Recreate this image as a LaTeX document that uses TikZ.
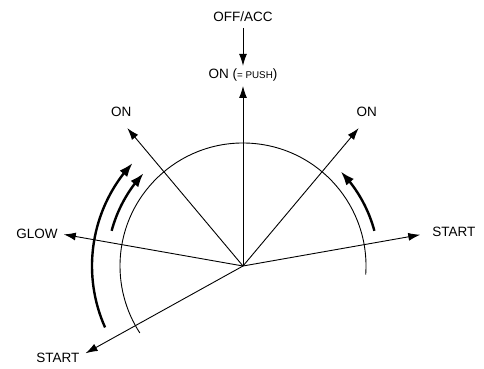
\documentclass[tikz,border=0pt]{standalone}
\usepackage{fontspec}
\setmainfont{Liberation Sans}
\usetikzlibrary{arrows.meta, positioning, bending}

\begin{document}
\begin{tikzpicture}[
  x=1pt, y=1pt,
  node distance=5pt,
  lbl/.style={inner sep=1pt, text height=9.8pt, text depth=2pt,
    font=\fontsize{13.5}{15}\selectfont},
  ray/.style={-{Latex[length=12pt, width=8pt]}, line width=0.9pt},
  turn/.style={-{Latex[length=14pt, width=10pt]}, line width=2.4pt}
]
\useasboundingbox (-243,-103) rectangle (241,266);
\coordinate (o) at (0,0);
% switch positions
\coordinate (topp) at (90:180pt);
\coordinate (onr) at (50:180pt);
\coordinate (onl) at (130:180pt);
\coordinate (str) at (10:180pt);
\coordinate (glw) at (170:182pt);
\coordinate (stl) at (209:180pt);
\node[lbl, above=4pt of topp] (on) {ON ({\fontsize{9.8}{11}\selectfont = PUSH})};
\node[lbl, above=43pt of on] (off) {OFF/ACC};
\node[lbl, above=8pt of onl, xshift=-6pt] (onlt) {ON};
\node[lbl, above=8pt of onr, xshift=8pt] (onrt) {ON};
\node[lbl, right=11pt of str, yshift=2pt] (strt) {START};
\node[lbl, left=5pt of glw] (glwt) {GLOW};
\node[lbl, left=5pt of stl, yshift=-5pt] (stlt) {START};
\draw[ray, shorten <=3pt, shorten >=2pt] (off) -- (on);
\foreach \p in {topp, onr, onl, str, glw, stl}
  \draw[ray] (o) -- (\p);
% key travel
\draw[line width=0.9pt] (-4:123pt) arc[start angle=-4, end angle=213, radius=123pt];
\draw[turn] (204:151pt) arc[start angle=204, end angle=137, radius=151pt];
\draw[turn] (165:136pt) arc[start angle=165, end angle=137, radius=136pt];
\draw[turn] (15:136pt) arc[start angle=15, end angle=44, radius=136pt];
\end{tikzpicture}
\end{document}
